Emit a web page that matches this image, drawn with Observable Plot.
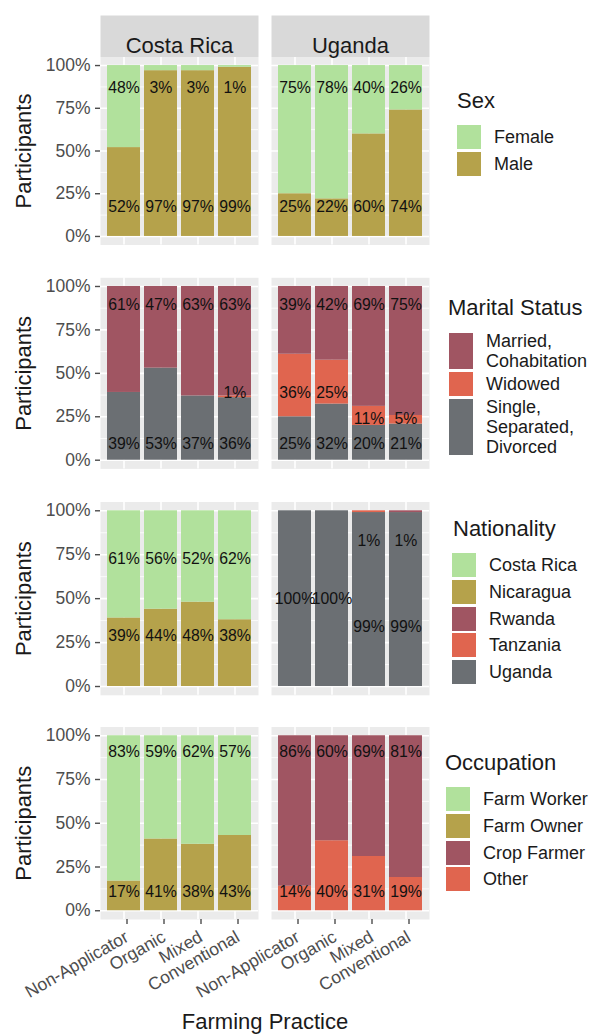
<!DOCTYPE html>
<html>
<head>
<meta charset="utf-8">
<script src="https://cdn.jsdelivr.net/npm/d3@7"></script>
<script src="https://cdn.jsdelivr.net/npm/@observablehq/plot@0.6"></script>
<style>
  html, body { margin: 0; padding: 0; background: #ffffff; }
  #chart { position: relative; width: 590px; height: 1034px; overflow: hidden;
           font-family: "Liberation Sans", Arial, sans-serif; }
  .row { position: absolute; left: 0; }
  .lg-title { position: absolute; font-size: 22px; line-height: 22px; color: #1a1a1a; white-space: nowrap; }
  .lg-key { position: absolute; width: 24px; }
  .lg-label { position: absolute; font-size: 18px; line-height: 20px; color: #1a1a1a; white-space: pre; }
  .xtitle { position: absolute; font-size: 22px; line-height: 22px; color: #1a1a1a; white-space: nowrap;
            width: 300px; text-align: center; }
</style>
</head>
<body>
<div id="chart"></div>
<script>
// ---------------- DATA ----------------
const countries = ["Costa Rica", "Uganda"];
const practices = ["Non-Applicator", "Organic", "Mixed", "Conventional"];

// Sex (rows follow sexLevels, columns follow practices)
const sexLevels = ["Female", "Male"];
const sexCostaRica = [[48, 3, 3, 1], [52, 97, 97, 99]];
const sexUganda = [[75, 78, 40, 26], [25, 22, 60, 74]];

// Marital status
const maritalLevels = ["Married, Cohabitation", "Widowed", "Single, Separated, Divorced"];
const maritalCostaRica = [[61, 47, 63, 63], [0, 0, 0, 1], [39, 53, 37, 36]];
const maritalUganda = [[39, 42, 69, 75], [36, 25, 11, 5], [25, 32, 20, 21]];

// Nationality
const nationalityLevels = ["Costa Rica", "Nicaragua", "Rwanda", "Tanzania", "Uganda"];
const nationalityCostaRica = [[61, 56, 52, 62], [39, 44, 48, 38], [0, 0, 0, 0], [0, 0, 0, 0], [0, 0, 0, 0]];
const nationalityUganda = [[0, 0, 0, 0], [0, 0, 0, 0], [0, 0, 0, 1], [0, 0, 1, 0], [100, 100, 99, 99]];

// Occupation
const occupationLevels = ["Farm Worker", "Farm Owner", "Crop Farmer", "Other"];
const occupationCostaRica = [[83, 59, 62, 57], [17, 41, 38, 43], [0, 0, 0, 0], [0, 0, 0, 0]];
const occupationUganda = [[0, 0, 0, 0], [0, 0, 0, 0], [86, 60, 69, 81], [14, 40, 31, 19]];

// ---------------- STYLE ----------------
const FONT = "'Liberation Sans', Arial, sans-serif";
const GREEN = "#B1E19C", OLIVE = "#B5A24B", MAROON = "#A05562", CORAL = "#E0654F", GRAY = "#6B6F73";

// label placement rules (fraction of the bar height)
const labelRules = {
  sex: d => d.level === "Female" ? 0.87 : 0.17,
  marital: d => d.level === "Married, Cohabitation" ? 0.895
    : d.level === "Widowed" ? ((d.country === "Uganda" && (d.practice === "Mixed" || d.practice === "Conventional")) ? 0.24 : 0.39)
    : 0.092,
  nationality: d => d.level === "Costa Rica" ? 0.728
    : d.level === "Nicaragua" ? 0.285
    : d.level === "Uganda" ? (d.value === 100 ? 0.5 : 0.338)
    : 0.83,
  occupation: d => (d.level === "Farm Worker" || d.level === "Crop Farmer") ? 0.906 : 0.105
};

// tidy table, bottom-of-stack first (first level ends on top, like ggplot)
function buildTable(levels, perCountry) {
  const rows = [];
  for (const country of countries) {
    const m = perCountry[country];
    for (let li = levels.length - 1; li >= 0; li--) {
      practices.forEach((p, pi) => {
        const v = m[li][pi];
        if (v > 0) rows.push({country, practice: p, level: levels[li], value: v});
      });
    }
  }
  return rows;
}

function rowPlot({levels, colors, table, labelY, marginTop, panelH, marginBottom, strip, xAxis}) {
  const height = marginTop + panelH + marginBottom;
  const marks = [
    Plot.frame({fill: "#EBEBEB"}),
    Plot.ruleY([0.125, 0.375, 0.625, 0.875], {stroke: "#ffffff", strokeWidth: 0.8}),
    Plot.ruleY([0, 0.25, 0.5, 0.75, 1], {stroke: "#ffffff", strokeWidth: 1.6}),
    Plot.ruleX(practices, {x: d => d, stroke: "#ffffff", strokeWidth: 1.6}),
    Plot.barY(table, Plot.stackY({offset: "normalize", x: "practice", y: "value", fill: "level", fx: "country"})),
    Plot.text(table, {x: "practice", fx: "country", y: labelY, text: d => d.value + "%",
                      fontSize: 15.8, fill: "#111111"}),
    Plot.axisY({ticks: [0, 0.25, 0.5, 0.75, 1], tickFormat: d => Math.round(d * 100) + "%",
                tickSize: 5, tickPadding: 5, fontSize: 17.5, color: "#4D4D4D", strokeWidth: 1.4, label: null}),
    Plot.text(["Participants"], {fx: () => "Costa Rica", text: d => d, frameAnchor: "left", textAnchor: "middle",
                                 rotate: -90, dx: -77, fontSize: 22, fill: "#1A1A1A"})
  ];
  if (strip) {
    marks.push(Plot.frame({fill: "#D9D9D9", insetTop: -41.5, insetBottom: panelH}));
    marks.push(Plot.text(countries, {fx: d => d, text: d => d, frameAnchor: "top", dy: -19.8,
                                     fontSize: 22, fill: "#1A1A1A"}));
  }
  if (xAxis) {
    marks.push(Plot.axisX({tickRotate: -30, fontSize: 17.5, tickSize: 5, tickPadding: 11, dx: 3,
                           color: "#4D4D4D", strokeWidth: 1.4, label: null}));
  }
  return Plot.plot({
    width: 440, height, marginLeft: 100, marginRight: 10, marginTop, marginBottom,
    style: {fontFamily: FONT, background: "transparent", overflow: "visible"},
    fx: {domain: countries, paddingInner: 0.0758, paddingOuter: 0, axis: null, label: null},
    x: {domain: practices, paddingInner: 0.1, paddingOuter: 0.15, axis: null, label: null},
    y: {domain: [-0.05, 1.05], axis: null, label: null},
    color: {domain: levels, range: colors},
    marks
  });
}

function legend(container, {title, levels, colors, keyLeft, keyTop, titleLeft, titleBaseline}) {
  const t = document.createElement("div");
  t.className = "lg-title";
  t.textContent = title;
  t.style.left = titleLeft + "px";
  t.style.top = (titleBaseline - 18.6) + "px";
  container.appendChild(t);
  let y = keyTop;
  levels.forEach((lv, i) => {
    const lines = lv.split(", ").join(",\n");
    const n = lines.split("\n").length;
    const h = Math.max(24, n * 20 - 4);
    const k = document.createElement("div");
    k.className = "lg-key";
    k.style.left = keyLeft + "px";
    k.style.top = y + "px";
    k.style.height = h + "px";
    k.style.background = colors[i];
    container.appendChild(k);
    const l = document.createElement("div");
    l.className = "lg-label";
    l.textContent = lines;
    l.style.left = (keyLeft + 37) + "px";
    l.style.top = (y + h / 2 - n * 10) + "px";
    container.appendChild(l);
    y += h + 2.8;
  });
}

const chart = document.getElementById("chart");
const rows = [
  {key: "sex", title: "Sex", levels: sexLevels, colors: [GREEN, OLIVE],
   data: {"Costa Rica": sexCostaRica, "Uganda": sexUganda},
   top: 0, marginTop: 56.5, panelH: 188, marginBottom: 5, strip: true,
   lg: {keyLeft: 457, keyTop: 125, titleLeft: 457, titleBaseline: 109}},
  {key: "marital", title: "Marital Status", levels: maritalLevels, colors: [MAROON, CORAL, GRAY],
   data: {"Costa Rica": maritalCostaRica, "Uganda": maritalUganda},
   top: 257, marginTop: 20.3, panelH: 191.1, marginBottom: 5,
   lg: {keyLeft: 449, keyTop: 333, titleLeft: 448, titleBaseline: 316}},
  {key: "nationality", title: "Nationality", levels: nationalityLevels, colors: [GREEN, OLIVE, MAROON, CORAL, GRAY],
   data: {"Costa Rica": nationalityCostaRica, "Uganda": nationalityUganda},
   top: 480, marginTop: 21.5, panelH: 193.3, marginBottom: 5,
   lg: {keyLeft: 452, keyTop: 553, titleLeft: 453, titleBaseline: 537}},
  {key: "occupation", title: "Occupation", levels: occupationLevels, colors: [GREEN, OLIVE, MAROON, CORAL],
   data: {"Costa Rica": occupationCostaRica, "Uganda": occupationUganda},
   top: 705, marginTop: 21.5, panelH: 192.5, marginBottom: 115, xAxis: true,
   lg: {keyLeft: 446, keyTop: 787, titleLeft: 445, titleBaseline: 771}}
];

for (const r of rows) {
  const table = buildTable(r.levels, r.data);
  const svg = rowPlot({levels: r.levels, colors: r.colors, table, labelY: labelRules[r.key],
                       marginTop: r.marginTop, panelH: r.panelH, marginBottom: r.marginBottom,
                       strip: !!r.strip, xAxis: !!r.xAxis});
  const wrap = document.createElement("div");
  wrap.className = "row";
  wrap.style.top = r.top + "px";
  wrap.appendChild(svg);
  chart.appendChild(wrap);
  legend(chart, {title: r.title, levels: r.levels, colors: r.colors, ...r.lg});
}

const xt = document.createElement("div");
xt.className = "xtitle";
xt.textContent = "Farming Practice";
xt.style.left = (265 - 150) + "px";
xt.style.top = (1030 - 18.6) + "px";
chart.appendChild(xt);
</script>
</body>
</html>
